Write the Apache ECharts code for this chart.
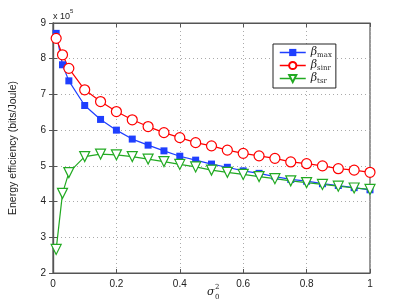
<!DOCTYPE html>
<html><head><meta charset="utf-8">
<script src="https://cdn.jsdelivr.net/npm/echarts@6/dist/echarts.min.js"></script>
<style>html,body{margin:0;padding:0;background:#fff}#c{width:408px;height:307px}</style>
</head><body><div id="c"></div>
<script>
const sigma2 = [0.01,0.03,0.05,0.1,0.15,0.2,0.25,0.3,0.35,0.4,0.45,0.5,0.55,0.6,0.65,0.7,0.75,0.8,0.85,0.9,0.95,1.0];
const betaMax = [8.71,7.83,7.38,6.69,6.30,6.00,5.75,5.58,5.42,5.27,5.16,5.05,4.96,4.86,4.79,4.70,4.62,4.57,4.50,4.45,4.39,4.33];
const betaSinr = [8.57,8.11,7.73,7.13,6.80,6.52,6.29,6.10,5.93,5.79,5.65,5.56,5.44,5.35,5.28,5.21,5.11,5.06,5.00,4.92,4.88,4.82];
const betaTsr = [2.66,4.23,4.81,5.26,5.33,5.31,5.26,5.19,5.12,5.04,4.97,4.88,4.82,4.76,4.70,4.64,4.58,4.53,4.48,4.43,4.38,4.34];
const xTicks = [0,0.2,0.4,0.6,0.8,1];
const yTicks = [2,3,4,5,6,7,8,9];

const pairs = ys => sigma2.map((x,i)=>[x,ys[i]]);
const font = 'Liberation Sans, Arial, sans-serif';
const chart = echarts.init(document.getElementById('c'));
const grid = {left:53,right:38,top:23,bottom:34,show:true,borderColor:'#555',borderWidth:1.2,backgroundColor:'transparent'};
const split = {show:true,lineStyle:{color:'#aaa',type:[1,3],width:1}};
const richLbl = {
  b:{fontFamily:'DejaVu Serif, serif',fontStyle:'italic',fontSize:11,color:'#222',lineHeight:13,verticalAlign:'middle'},
  s:{fontFamily:'DejaVu Serif, serif',fontSize:7,color:'#222',padding:[6,0,0,0],verticalAlign:'bottom'}
};
chart.setOption({
  animation:false,
  grid:grid,
  xAxis:[{type:'value',min:0,max:1,interval:0.2,
    axisLine:{lineStyle:{color:'#555',width:1.2}},
    axisTick:{inside:true,length:4,lineStyle:{color:'#555'}},
    axisLabel:{color:'#222',fontSize:10,fontFamily:font,margin:6,
      formatter:v=>{const t=xTicks.find(k=>Math.abs(k-v)<1e-9);return t===undefined?'':String(t);}},
    splitLine:split},
   {type:'value',min:0,max:1,interval:0.2,position:'top',
    axisLine:{lineStyle:{color:'#555',width:1.2}},
    axisTick:{inside:true,length:4,lineStyle:{color:'#555'}},axisLabel:{show:false},splitLine:{show:false}}],
  yAxis:[{type:'value',min:2,max:9,interval:1,
    axisLine:{lineStyle:{color:'#555',width:1.2}},
    axisTick:{inside:true,length:4,lineStyle:{color:'#555'}},
    axisLabel:{color:'#222',fontSize:10,fontFamily:font,margin:7,
      formatter:v=>{const t=yTicks.find(k=>Math.abs(k-v)<1e-9);return t===undefined?'':String(t);}},
    splitLine:split,
    name:'Energy efficiency (bits/Joule)',nameLocation:'middle',nameGap:34,
    nameTextStyle:{fontSize:10.5,color:'#222',fontFamily:font}},
   {type:'value',min:2,max:9,interval:1,position:'right',
    axisLine:{lineStyle:{color:'#555',width:1.2}},
    axisTick:{inside:true,length:4,lineStyle:{color:'#555'}},axisLabel:{show:false},splitLine:{show:false}}],
  legend:{
    left:273,top:44,width:66,orient:'vertical',itemWidth:26,itemHeight:9,itemGap:1,
    padding:[3,4,3,6],
    borderColor:'#222',borderWidth:1,backgroundColor:'#fff',
    lineStyle:{width:1.5},
    textStyle:{rich:richLbl},
    formatter:n=>({max:'{b|β}{s|max}',sinr:'{b|β}{s|sinr}',tsr:'{b|β}{s|tsr}'}[n]),
    data:['max','sinr','tsr']
  },
  graphic:[
    {type:'text',left:53,top:8,style:{text:'{a|x 10}{b|5}',rich:{a:{fontSize:9,fontFamily:font,fill:'#222',padding:[4,0,0,0]},b:{fontSize:6,fontFamily:font,fill:'#222',verticalAlign:'top'}}}},
    {type:'text',left:207,top:287,style:{text:'σ',fontSize:11,fontStyle:'italic',fontFamily:'DejaVu Serif, serif',fill:'#222'}},
    {type:'text',left:215,top:284,style:{text:'2',fontSize:7,fontFamily:'DejaVu Serif, serif',fill:'#222'}},
    {type:'text',left:215,top:294,style:{text:'0',fontSize:7,fontFamily:'DejaVu Serif, serif',fill:'#222'}}
  ],
  series:[
    {name:'max',type:'line',data:pairs(betaMax),symbol:'rect',symbolSize:7,
      lineStyle:{color:'#1f3fff',width:1.2},itemStyle:{color:'#1f3fff'}},
    {name:'sinr',type:'line',data:pairs(betaSinr),symbol:'circle',symbolSize:10,
      lineStyle:{color:'#ff0000',width:1.2},itemStyle:{color:'#fff',borderColor:'#ff0000',borderWidth:1.2}},
    {name:'tsr',type:'line',data:pairs(betaTsr),symbol:'triangle',symbolRotate:180,symbolSize:10,
      lineStyle:{color:'#22aa22',width:1.2},itemStyle:{color:'#fff',borderColor:'#22aa22',borderWidth:1.2}}
  ]
});
</script></body></html>
